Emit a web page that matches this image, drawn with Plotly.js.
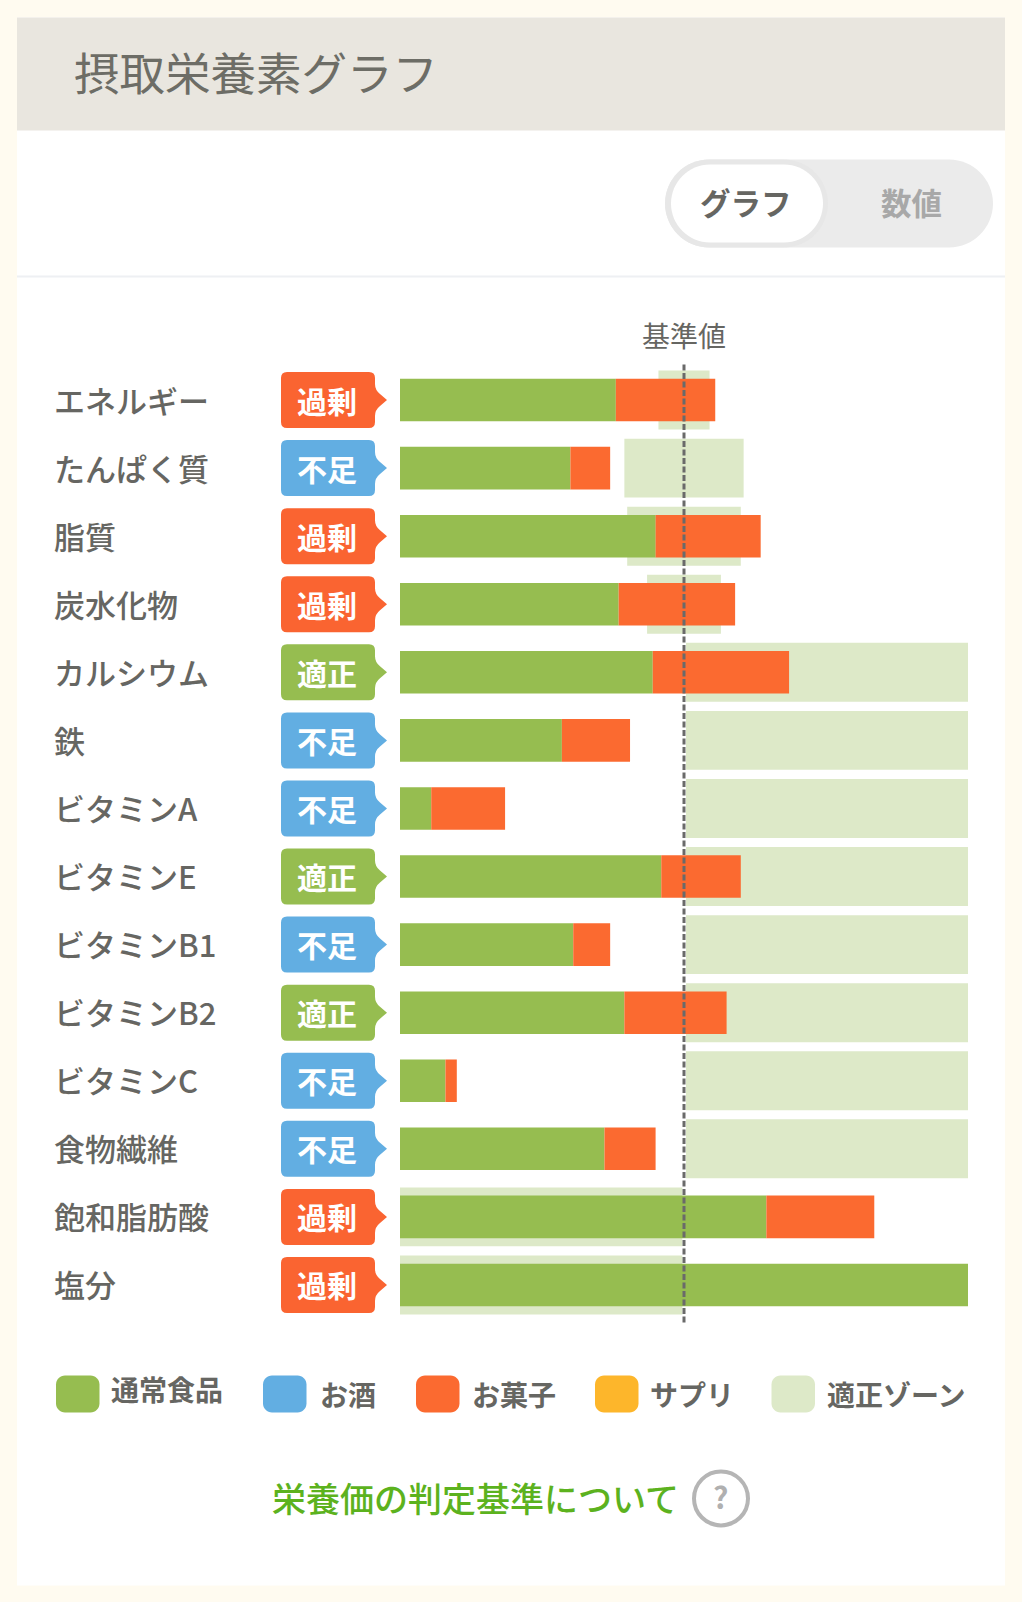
<!DOCTYPE html>
<html><head><meta charset="utf-8">
<script src="https://cdn.plot.ly/plotly-3.0.1.min.js"></script>
<style>html,body{margin:0;padding:0;background:#fffbf0;width:1022px;height:1602px;overflow:hidden}</style>
</head><body><div id="chart" style="width:1022px;height:1602px"></div>
<script>
const nutrients=['エネルギー','たんぱく質','脂質','炭水化物','カルシウム','鉄','ビタミンA','ビタミンE','ビタミンB1','ビタミンB2','ビタミンC','食物繊維','飽和脂肪酸','塩分'];
const verdicts=['過剰','不足','過剰','過剰','適正','不足','不足','適正','不足','適正','不足','不足','過剰','過剰'];
const regularFood=[76,60,90,77,89,57,11,92,61,79,16,72,129,200];
const alcohol=[0,0,0,0,0,0,0,0,0,0,0,0,0,0];
const sweets=[35,14,37,41,48,24,26,28,13,36,4,18,38,0];
const supplements=[0,0,0,0,0,0,0,0,0,0,0,0,0,0];
const zoneLow=[91,79,80,87,100.7,100.7,100.7,100.7,100.7,100.7,100.7,100.7,0,0];
const zoneHigh=[109,121,120,113,200,200,200,200,200,200,200,200,99.4,99.4];
const legendNames=['通常食品','お酒','お菓子','サプリ','適正ゾーン'];

const C={food:'#96bd50',drink:'#62aee2',sweet:'#fb6a30',supp:'#fdb62b',zone:'#dde9c8',txt:'#666662'};
const verdictColor={'過剰':'#fa6431','不足':'#62aee2','適正':'#96bd50'};
const FONT='"Noto Sans CJK JP","Noto Sans CJK SC",sans-serif';
const L=400,R=968,T=365.6,B=1319.4,W=1022,H=1602;
const px=x=>(x-L)/(R-L), py=y=>(B-y)/(B-T);

function bar(name,base,val,color,width){
  return {type:'bar',orientation:'h',name,y:nutrients,x:val,base,width,hoverinfo:'skip',
    marker:{color,line:{width:0}},showlegend:false};
}
const sum=(a,b)=>a.map((v,i)=>v+b[i]);
const zeros=nutrients.map(()=>0);
const traces=[
  bar('適正ゾーン',zoneLow,zoneHigh.map((v,i)=>v-zoneLow[i]),C.zone,0.866),
  bar('通常食品',zeros,regularFood,C.food,0.625),
  bar('お酒',regularFood,alcohol,C.drink,0.625),
  bar('お菓子',sum(regularFood,alcohol),sweets,C.sweet,0.625),
  bar('サプリ',sum(sum(regularFood,alcohol),sweets),supplements,C.supp,0.625)
];

function rr(x0,y0,x1,y1,r){
  const k=r*0.45,X=x=>(x-L).toFixed(2),Y=y=>(T-y).toFixed(2);
  return 'M'+X(x0+r)+','+Y(y0)+' L'+X(x1-r)+','+Y(y0)+
   ' C'+X(x1-k)+','+Y(y0)+' '+X(x1)+','+Y(y0+k)+' '+X(x1)+','+Y(y0+r)+
   ' L'+X(x1)+','+Y(y1-r)+
   ' C'+X(x1)+','+Y(y1-k)+' '+X(x1-k)+','+Y(y1)+' '+X(x1-r)+','+Y(y1)+
   ' L'+X(x0+r)+','+Y(y1)+
   ' C'+X(x0+k)+','+Y(y1)+' '+X(x0)+','+Y(y1-k)+' '+X(x0)+','+Y(y1-r)+
   ' L'+X(x0)+','+Y(y0+r)+
   ' C'+X(x0)+','+Y(y0+k)+' '+X(x0+k)+','+Y(y0)+' '+X(x0+r)+','+Y(y0)+' Z';
}
function pageShape(path,fill,opt){
  return Object.assign({type:'path',path,xref:'paper',yref:'paper',xsizemode:'pixel',ysizemode:'pixel',
    xanchor:0,yanchor:1,fillcolor:fill,line:{width:0},layer:'below'},opt||{});
}
function text(t,x,y,size,color,anchor,weight){
  return {text:t,xref:'paper',yref:'paper',x:px(x),y:py(y),showarrow:false,xanchor:anchor||'center',yanchor:'middle',
    font:{family:FONT,size,color,weight:weight||400},borderpad:0};
}
const shapes=[
  pageShape(rr(17,17,1005,1585,0.01),'#ffffff'),
  pageShape(rr(17,17,1005,130,0.01),'#e9e6df'),
  pageShape(rr(17,275,1005,277,0.01),'#eef0f3'),
  pageShape(rr(665,159,993,247,44),'#ebebeb'),
  pageShape(rr(665,159,828,247,44),'#e7e7e7'),
  pageShape(rr(671,164,823,242,39),'#ffffff')
];
verdicts.forEach((v,i)=>{
  const path='M-113,28 L-31,28 Q-25,28 -25,22 L-25,16 Q-25,10 -20,6 L-13,0 L-20,-6 Q-25,-10 -25,-16 L-25,-22 Q-25,-28 -31,-28 L-113,-28 Q-119,-28 -119,-22 L-119,22 Q-119,28 -113,28 Z';
  shapes.push({type:'path',path,xref:'paper',yref:'y',xsizemode:'pixel',ysizemode:'pixel',
    xanchor:0,yanchor:nutrients[i],fillcolor:verdictColor[v],line:{width:0},layer:'above'});
});
shapes.push({type:'line',xref:'x',yref:'paper',x0:100,x1:100,y0:py(1323),y1:py(363),
  line:{color:'#6a6a6a',width:3,dash:'6px,2.5px'},layer:'above'});

const swatchX=[56,263,416,595,771.5], labelX=[109.5,318.5,470.5,649,825.5], labelY=[1389.5,1394.5,1394.5,1394.5,1394.5];
const swatchColors=[C.food,C.drink,C.sweet,C.supp,C.zone];
swatchX.forEach((x,i)=>shapes.push(pageShape(rr(x,1375,x+43.5,1412,9),swatchColors[i])));

const annotations=[
  text('摂取栄養素グラフ',72.5,70.5,45.5,'#6d6d66','left'),
  text('グラフ',746,201.5,30.5,'#666662','center',700),
  text('数値',911.5,201.5,30.5,'#a8a8a8','center',700),
  text('基準値',683.5,335,28,C.txt,'center'),
  text('栄養価の判定基準について',475,1498.5,34,'#5cb21e','center',500),
  text('?',720,1497,30,'#b0b0b0','center',700)
];
shapes.push({type:'circle',xref:'paper',yref:'paper',xsizemode:'pixel',ysizemode:'pixel',
  xanchor:0,yanchor:1,x0:694-L,x1:748-L,y0:T-1471,y1:T-1525,fillcolor:'rgba(0,0,0,0)',
  line:{color:'#b5b5b5',width:4},layer:'above'});
nutrients.forEach((n,i)=>{
  annotations.push({text:n,xref:'paper',yref:'y',x:px(52),y:n,yshift:1,showarrow:false,xanchor:'left',yanchor:'middle',
    font:{family:FONT,size:31,color:C.txt,weight:500}});
  annotations.push({text:verdicts[i],xref:'paper',yref:'y',x:px(327),y:n,yshift:0.5,showarrow:false,xanchor:'center',yanchor:'middle',
    font:{family:FONT,size:30,color:'#ffffff',weight:700}});
});
legendNames.forEach((n,i)=>annotations.push(text(n,labelX[i],labelY[i],28,C.txt,'left',700)));

Plotly.newPlot('chart',traces,{
  width:W,height:H,
  margin:{l:L,r:W-R,t:T,b:H-B,pad:0},
  paper_bgcolor:'#fffbf0',plot_bgcolor:'rgba(0,0,0,0)',
  barmode:'overlay',showlegend:false,hovermode:false,
  xaxis:{range:[0,200],visible:false,fixedrange:true},
  yaxis:{type:'category',categoryorder:'array',categoryarray:nutrients,range:[13.5,-0.5],visible:false,fixedrange:true},
  shapes,annotations
},{displayModeBar:false,staticPlot:true});
</script></body></html>
